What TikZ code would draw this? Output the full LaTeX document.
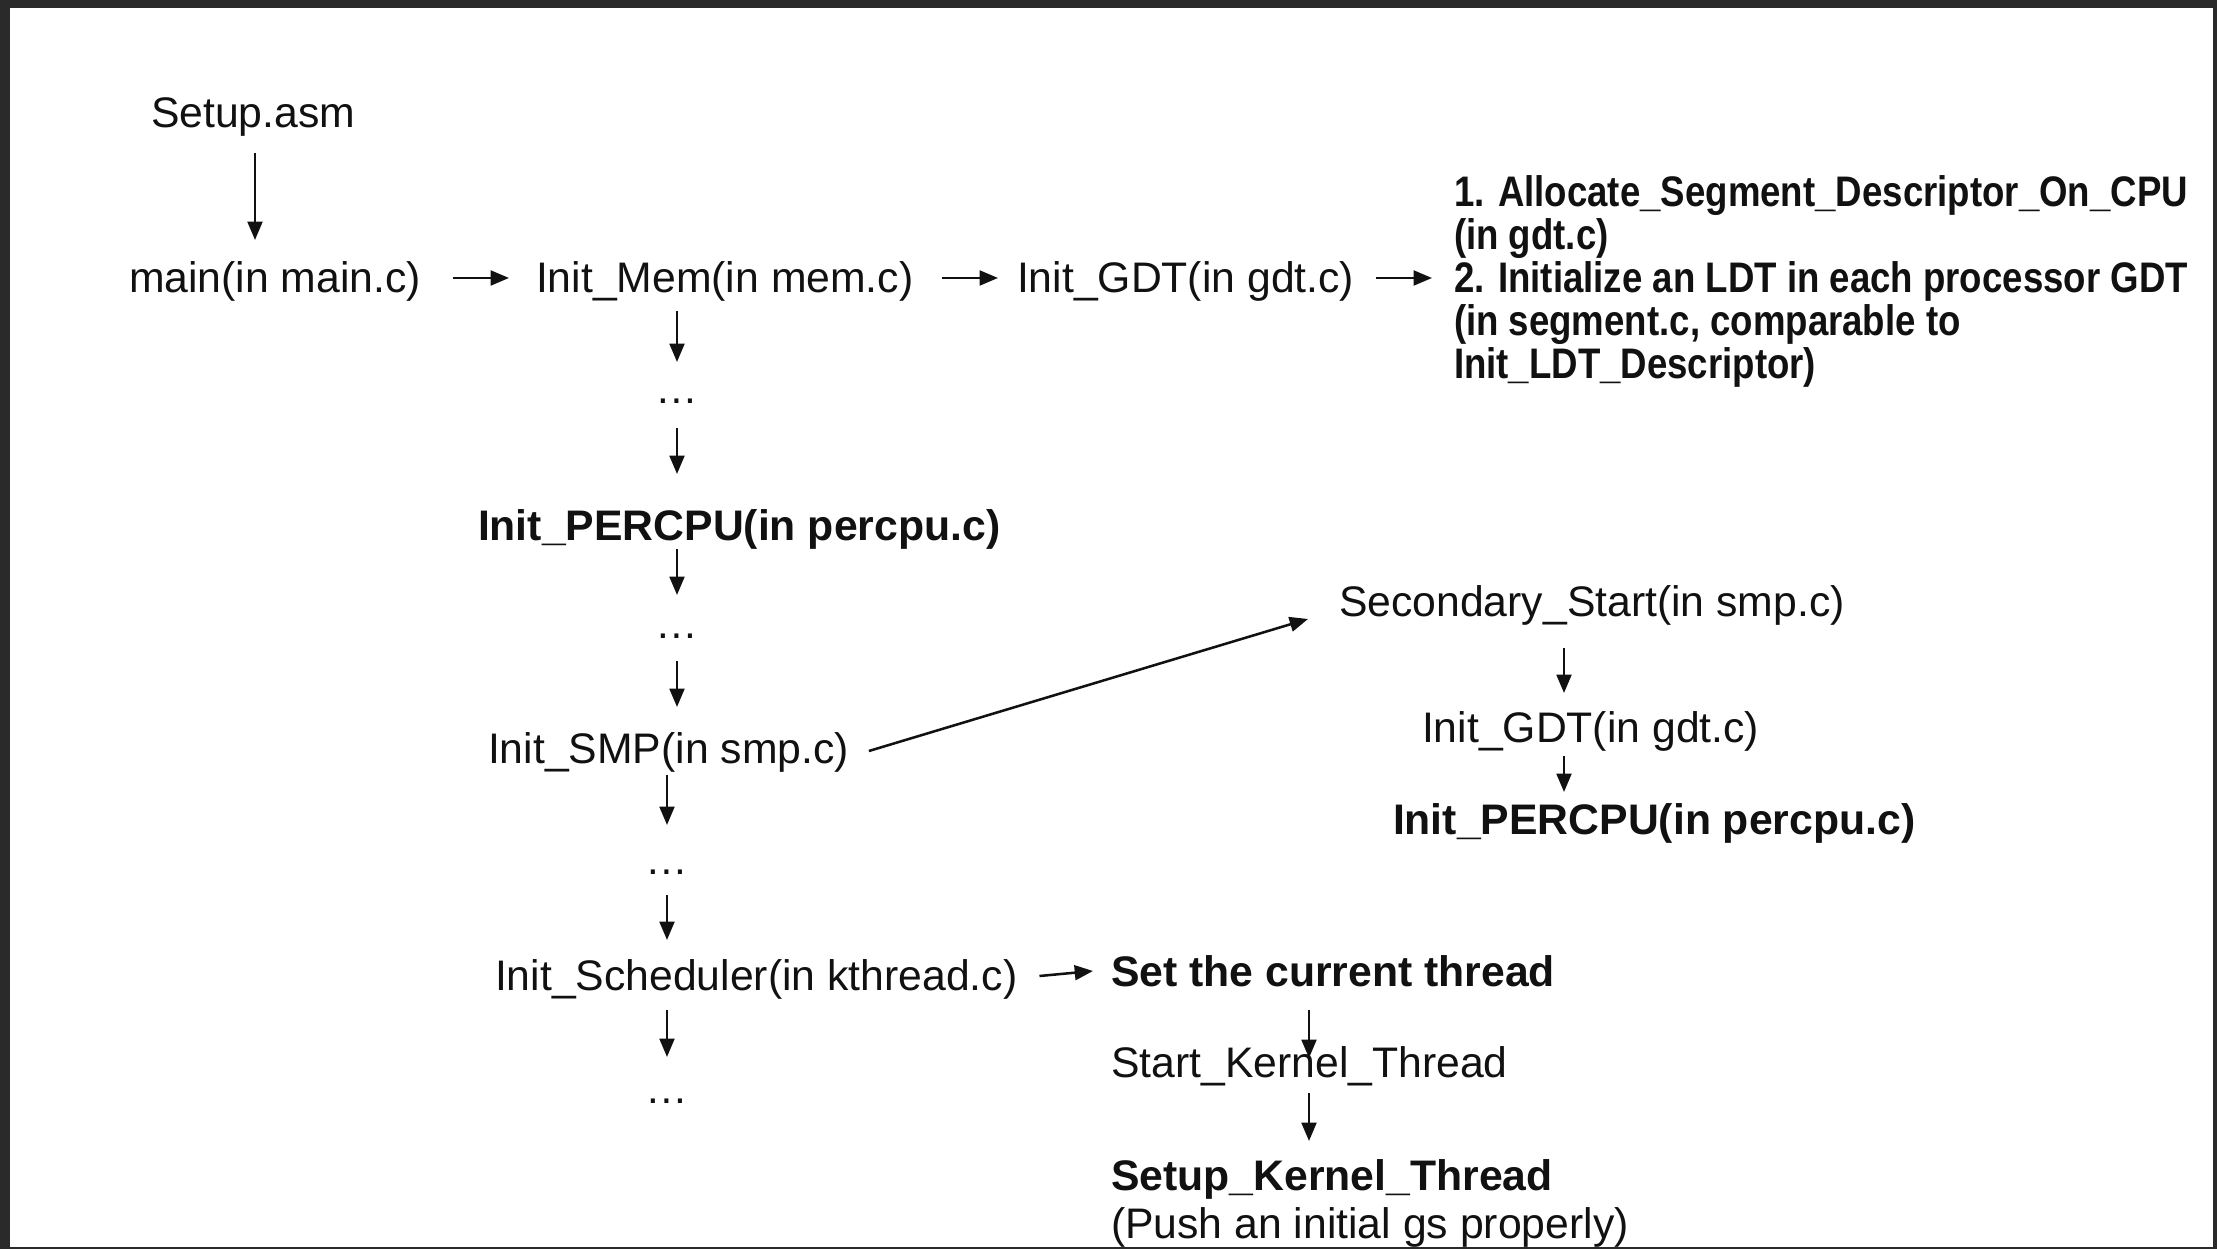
\documentclass[tikz,border=0pt]{standalone}
\usepackage{fontspec}
\setmainfont{Liberation Sans}
\newfontfamily\condfont{Liberation Sans Bold}[FakeStretch=0.857]
\usetikzlibrary{arrows.meta,calc}
\definecolor{ink}{HTML}{111111}
\definecolor{framecol}{HTML}{2A2A2A}
\newcommand\fsz{\fontsize{12.15pt}{14.6pt}\selectfont}
\begin{document}
\begin{tikzpicture}[x=0.01cm,y=-0.01cm,
 lbl/.style={anchor=base west, inner sep=0pt, outer sep=0pt, font=\fsz, text=ink},
 bl/.style={lbl, font=\fsz\bfseries},
 cb/.style={lbl, font=\fsz\condfont},
 dd/.style={anchor=base, inner sep=0pt, outer sep=0pt, font=\fsz, text=ink},
 arr/.style={draw=ink, line width=0.72pt, -{Triangle[length=5.2pt,width=4.2pt]}}]
\useasboundingbox (0,0) rectangle (2217,1249);
\fill[framecol] (0,0) rectangle (2217,1249);
\fill[white] (10,8) rectangle (2213,1247);

% nodes
\node[lbl] (setup) at (151,128) {Setup.asm};
\node[lbl] (main) at (129,293) {main(in main.c)};
\node[lbl] (mem) at (536,293) {Init\_Mem(in mem.c)};
\node[lbl] (gdt) at (1017,293) {Init\_GDT(in gdt.c)};
\node[cb] (r1) at (1454,207) {1. Allocate\_Segment\_Descriptor\_On\_CPU};
\node[cb] (r2) at (1454,250) {(in gdt.c)};
\node[cb] (r3) at (1454,293) {2. Initialize an LDT in each processor GDT};
\node[cb] (r4) at (1454,336) {(in segment.c, comparable to};
\node[cb] (r5) at (1454,379) {Init\_LDT\_Descriptor)};
\node[dd] (d1) at (677,404) {…};
\node[bl] (pcpu) at (478,541) {Init\_PERCPU(in percpu.c)};
\node[dd] (d2) at (677,639) {…};
\node[lbl] (smp) at (488,764) {Init\_SMP(in smp.c)};
\node[dd] (d3) at (667,874) {…};
\node[lbl] (sched) at (495,991) {Init\_Scheduler(in kthread.c)};
\node[dd] (d4) at (667,1103) {…};
\node[lbl] (sec) at (1339,617) {Secondary\_Start(in smp.c)};
\node[lbl] (gdt2) at (1422,742) {Init\_GDT(in gdt.c)};
\node[bl] (pcpu2) at (1393,834) {Init\_PERCPU(in percpu.c)};
\node[bl] (cur) at (1111,986) {Set the current thread};
\node[lbl] (start) at (1111,1077) {Start\_Kernel\_Thread};
\node[bl] (setk) at (1111,1190) {Setup\_Kernel\_Thread};
\node[lbl] (push) at (1111,1238) {(Push an initial gs properly)};

% horizontal connectors
\draw[arr] ([shift={(32,-15)}]main.base east) -- ([shift={(-27,-15)}]mem.base west);
\draw[arr] ([shift={(29,-15)}]mem.base east) -- ([shift={(-19,-15)}]gdt.base west);
\draw[arr] ([shift={(22,-15)}]gdt.base east) -- ([shift={(-22,-15)}]r3.base west);
\draw[arr] ([shift={(22,-15)}]sched.base east) -- ([shift={(-18,-15)}]cur.base west);
\draw[arr] ([shift={(20,-13)}]smp.base east) -- ([shift={(-31,2)}]sec.base west);

% vertical connectors
\draw[arr] ($(setup.base west)+(104,25)$) -- ($(main.base west)+(126,-53)$);
\draw[arr] ($(d1 |- mem.base)+(0,18)$) -- ($(d1.base)+(0,-42)$);
\draw[arr] ($(d1.base)+(0,24)$) -- ($(d1 |- pcpu.base)+(0,-67)$);
\draw[arr] ($(d2 |- pcpu.base)+(0,8)$) -- ($(d2.base)+(0,-44)$);
\draw[arr] ($(d2.base)+(0,22)$) -- ($(d2 |- smp.base)+(0,-57)$);
\draw[arr] ($(d3 |- smp.base)+(0,11)$) -- ($(d3.base)+(0,-49)$);
\draw[arr] ($(d3.base)+(0,21)$) -- ($(d3 |- sched.base)+(0,-51)$);
\draw[arr] ($(d4 |- sched.base)+(0,19)$) -- ($(d4.base)+(0,-46)$);
\draw[arr] ($(sec.base west)+(225,31)$) -- ($(sec.base west |- gdt2.base)+(225,-49)$);
\draw[arr] ($(gdt2.base west)+(142,14)$) -- ($(gdt2.base west |- pcpu2.base)+(142,-42)$);
\draw[arr] ($(cur.base west)+(198,24)$) -- ($(cur.base west |- start.base)+(198,-19)$);
\draw[arr] ($(start.base west)+(198,16)$) -- ($(start.base west |- setk.base)+(198,-49)$);
\end{tikzpicture}
\end{document}
